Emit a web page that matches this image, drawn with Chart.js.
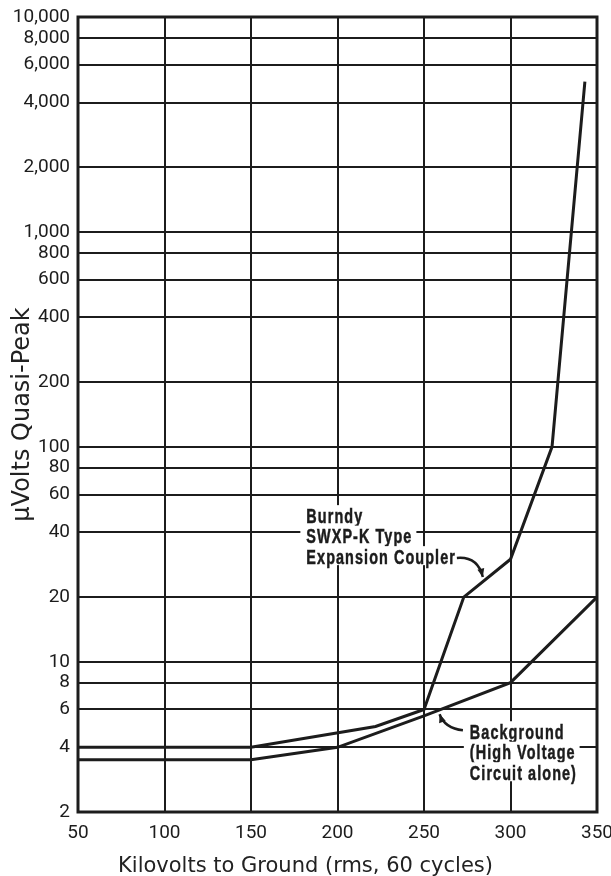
<!DOCTYPE html>
<html>
<head>
<meta charset="utf-8">
<script src="https://cdn.jsdelivr.net/npm/chart.js@4"></script>
<style>
  html, body { margin: 0; padding: 0; background: #fff; }
  #wrap { width: 611px; height: 876px; position: relative; }
</style>
</head>
<body>
<div id="wrap"><canvas id="chart"></canvas></div>
<script>
// kV to ground vs. microvolts quasi-peak
const burndyKv = [50, 150, 222, 250, 273, 300, 324, 343];
const burndyUv = [4, 4, 5, 6, 20, 30, 100, 5000];
const backgroundKv = [50, 150, 200, 250, 300, 350];
const backgroundUv = [3.5, 3.5, 4, 5.6, 8, 20];

const yTicks = [2, 4, 6, 8, 10, 20, 40, 60, 80, 100, 200, 400, 600, 800, 1000, 2000, 4000, 6000, 8000, 10000];
const xTicks = [50, 100, 150, 200, 250, 300, 350];

const xTitle = 'Kilovolts to Ground (rms, 60 cycles)';
const yTitle = 'μVolts Quasi-Peak';

// callout labels (data units: kV, µV)
const burndyLabel = ['Burndy', 'SWXP-K Type', 'Expansion Coupler'];
const burndyLabelAt = [182, 47.6];
const burndyArrow = [[269, 30.4], [281, 31], [284, 24.8]]; // tail, control, tip
const bgLabel = ['Background', '(High Voltage', 'Circuit alone)'];
const bgLabelAt = [276.5, 4.7];
const bgArrow = [[272.5, 4.8], [262, 4.9], [259, 5.7]];

const INK = '#1c1c1c';
const tickFont = 'Roboto, "Liberation Sans", sans-serif';

function toPts(xs, ys) {
    return xs.map((x, i) => ({ x: x, y: ys[i] }));
}

const callouts = {
    id: 'callouts',
    beforeDatasetsDraw(chart) {
        const { ctx, scales: { x, y } } = chart;
        const squeeze = 0.72;
        ctx.save();
        ctx.font = 'bold 20px "Liberation Sans", Arial, sans-serif';
        ctx.letterSpacing = '1.5px';
        ctx.textBaseline = 'middle';
        ctx.textAlign = 'left';

        function block(lines, at) {
            const left = x.getPixelForValue(at[0]);
            const top = y.getPixelForValue(at[1]);
            lines.forEach((t, i) => {
                const w = ctx.measureText(t).width * squeeze;
                const cy = top + i * 20.5;
                const last = i === lines.length - 1;
                ctx.fillStyle = '#fff';
                ctx.fillRect(left - 6, cy - 11, w + 10, last ? 19 : 22);
                ctx.fillStyle = INK;
                ctx.strokeStyle = INK;
                ctx.lineWidth = 0.5;
                ctx.save();
                ctx.translate(left, cy + 1);
                ctx.scale(squeeze, 1);
                ctx.fillText(t, 0, 0);
                ctx.strokeText(t, 0, 0);
                ctx.restore();
            });
        }

        function arrow(pts) {
            const p = pts.map(d => [x.getPixelForValue(d[0]), y.getPixelForValue(d[1])]);
            ctx.strokeStyle = INK;
            ctx.lineWidth = 2.5;
            ctx.beginPath();
            ctx.moveTo(p[0][0], p[0][1]);
            ctx.quadraticCurveTo(p[1][0], p[1][1], p[2][0], p[2][1]);
            ctx.stroke();
            const ang = Math.atan2(p[2][1] - p[1][1], p[2][0] - p[1][0]);
            ctx.fillStyle = INK;
            ctx.beginPath();
            ctx.moveTo(p[2][0], p[2][1]);
            ctx.lineTo(p[2][0] - 9 * Math.cos(ang - 0.4), p[2][1] - 9 * Math.sin(ang - 0.4));
            ctx.lineTo(p[2][0] - 9 * Math.cos(ang + 0.4), p[2][1] - 9 * Math.sin(ang + 0.4));
            ctx.closePath();
            ctx.fill();
        }

        block(burndyLabel, burndyLabelAt);
        block(bgLabel, bgLabelAt);
        ctx.letterSpacing = '0px';
        arrow(burndyArrow);
        arrow(bgArrow);
        ctx.restore();
    },
    afterDraw(chart) {
        const { ctx, chartArea: a, width } = chart;
        ctx.save();
        // heavy frame round the plot
        ctx.strokeStyle = INK;
        ctx.lineWidth = 3;
        ctx.strokeRect(a.left, a.top, a.right - a.left, a.bottom - a.top);
        // x title sits centred on the page, not on the plot
        ctx.fillStyle = '#222';
        ctx.font = '21px "DejaVu Sans", sans-serif';
        ctx.textAlign = 'center';
        ctx.textBaseline = 'middle';
        ctx.fillText(xTitle, width / 2, 867);
        ctx.restore();
    }
};

new Chart(document.getElementById('chart'), {
    type: 'line',
    data: {
        datasets: [
            {
                label: burndyLabel.join(' '),
                data: toPts(burndyKv, burndyUv),
                borderColor: INK,
                borderWidth: 3,
                pointRadius: 0,
                tension: 0
            },
            {
                label: bgLabel.join(' '),
                data: toPts(backgroundKv, backgroundUv),
                borderColor: INK,
                borderWidth: 3,
                pointRadius: 0,
                tension: 0
            }
        ]
    },
    options: {
        responsive: true,
        maintainAspectRatio: false,
        animation: false,
        layout: { padding: { top: 17, right: 14, left: 0, bottom: 0 } },
        plugins: {
            legend: { display: false },
            tooltip: { enabled: false }
        },
        scales: {
            x: {
                type: 'linear',
                min: 50,
                max: 350,
                afterBuildTicks: s => { s.ticks = xTicks.map(v => ({ value: v })); },
                afterFit: s => { s.height = 64; s.paddingLeft = 0; s.paddingRight = 0; },
                grid: { color: INK, lineWidth: 2, drawTicks: false },
                border: { display: false },
                ticks: {
                    padding: 10,
                    color: INK,
                    maxRotation: 0,
                    font: { family: tickFont, size: 19 }
                },
                title: { display: false }
            },
            y: {
                type: 'logarithmic',
                min: 2,
                max: 10000,
                afterBuildTicks: s => { s.ticks = yTicks.map(v => ({ value: v })); },
                afterFit: s => { s.width = 78; s.paddingTop = 0; s.paddingBottom = 0; },
                grid: { color: INK, lineWidth: 2, drawTicks: false },
                border: { display: false },
                ticks: {
                    padding: 8,
                    color: INK,
                    autoSkip: false,
                    font: { family: tickFont, size: 19 },
                    callback: v => v.toLocaleString('en-US')
                },
                title: {
                    display: true,
                    text: yTitle,
                    color: '#222',
                    font: { family: '"DejaVu Sans", sans-serif', size: 24, lineHeight: 1 },
                    padding: { top: 11, bottom: 0 }
                }
            }
        }
    },
    plugins: [callouts]
});
</script>
</body>
</html>
